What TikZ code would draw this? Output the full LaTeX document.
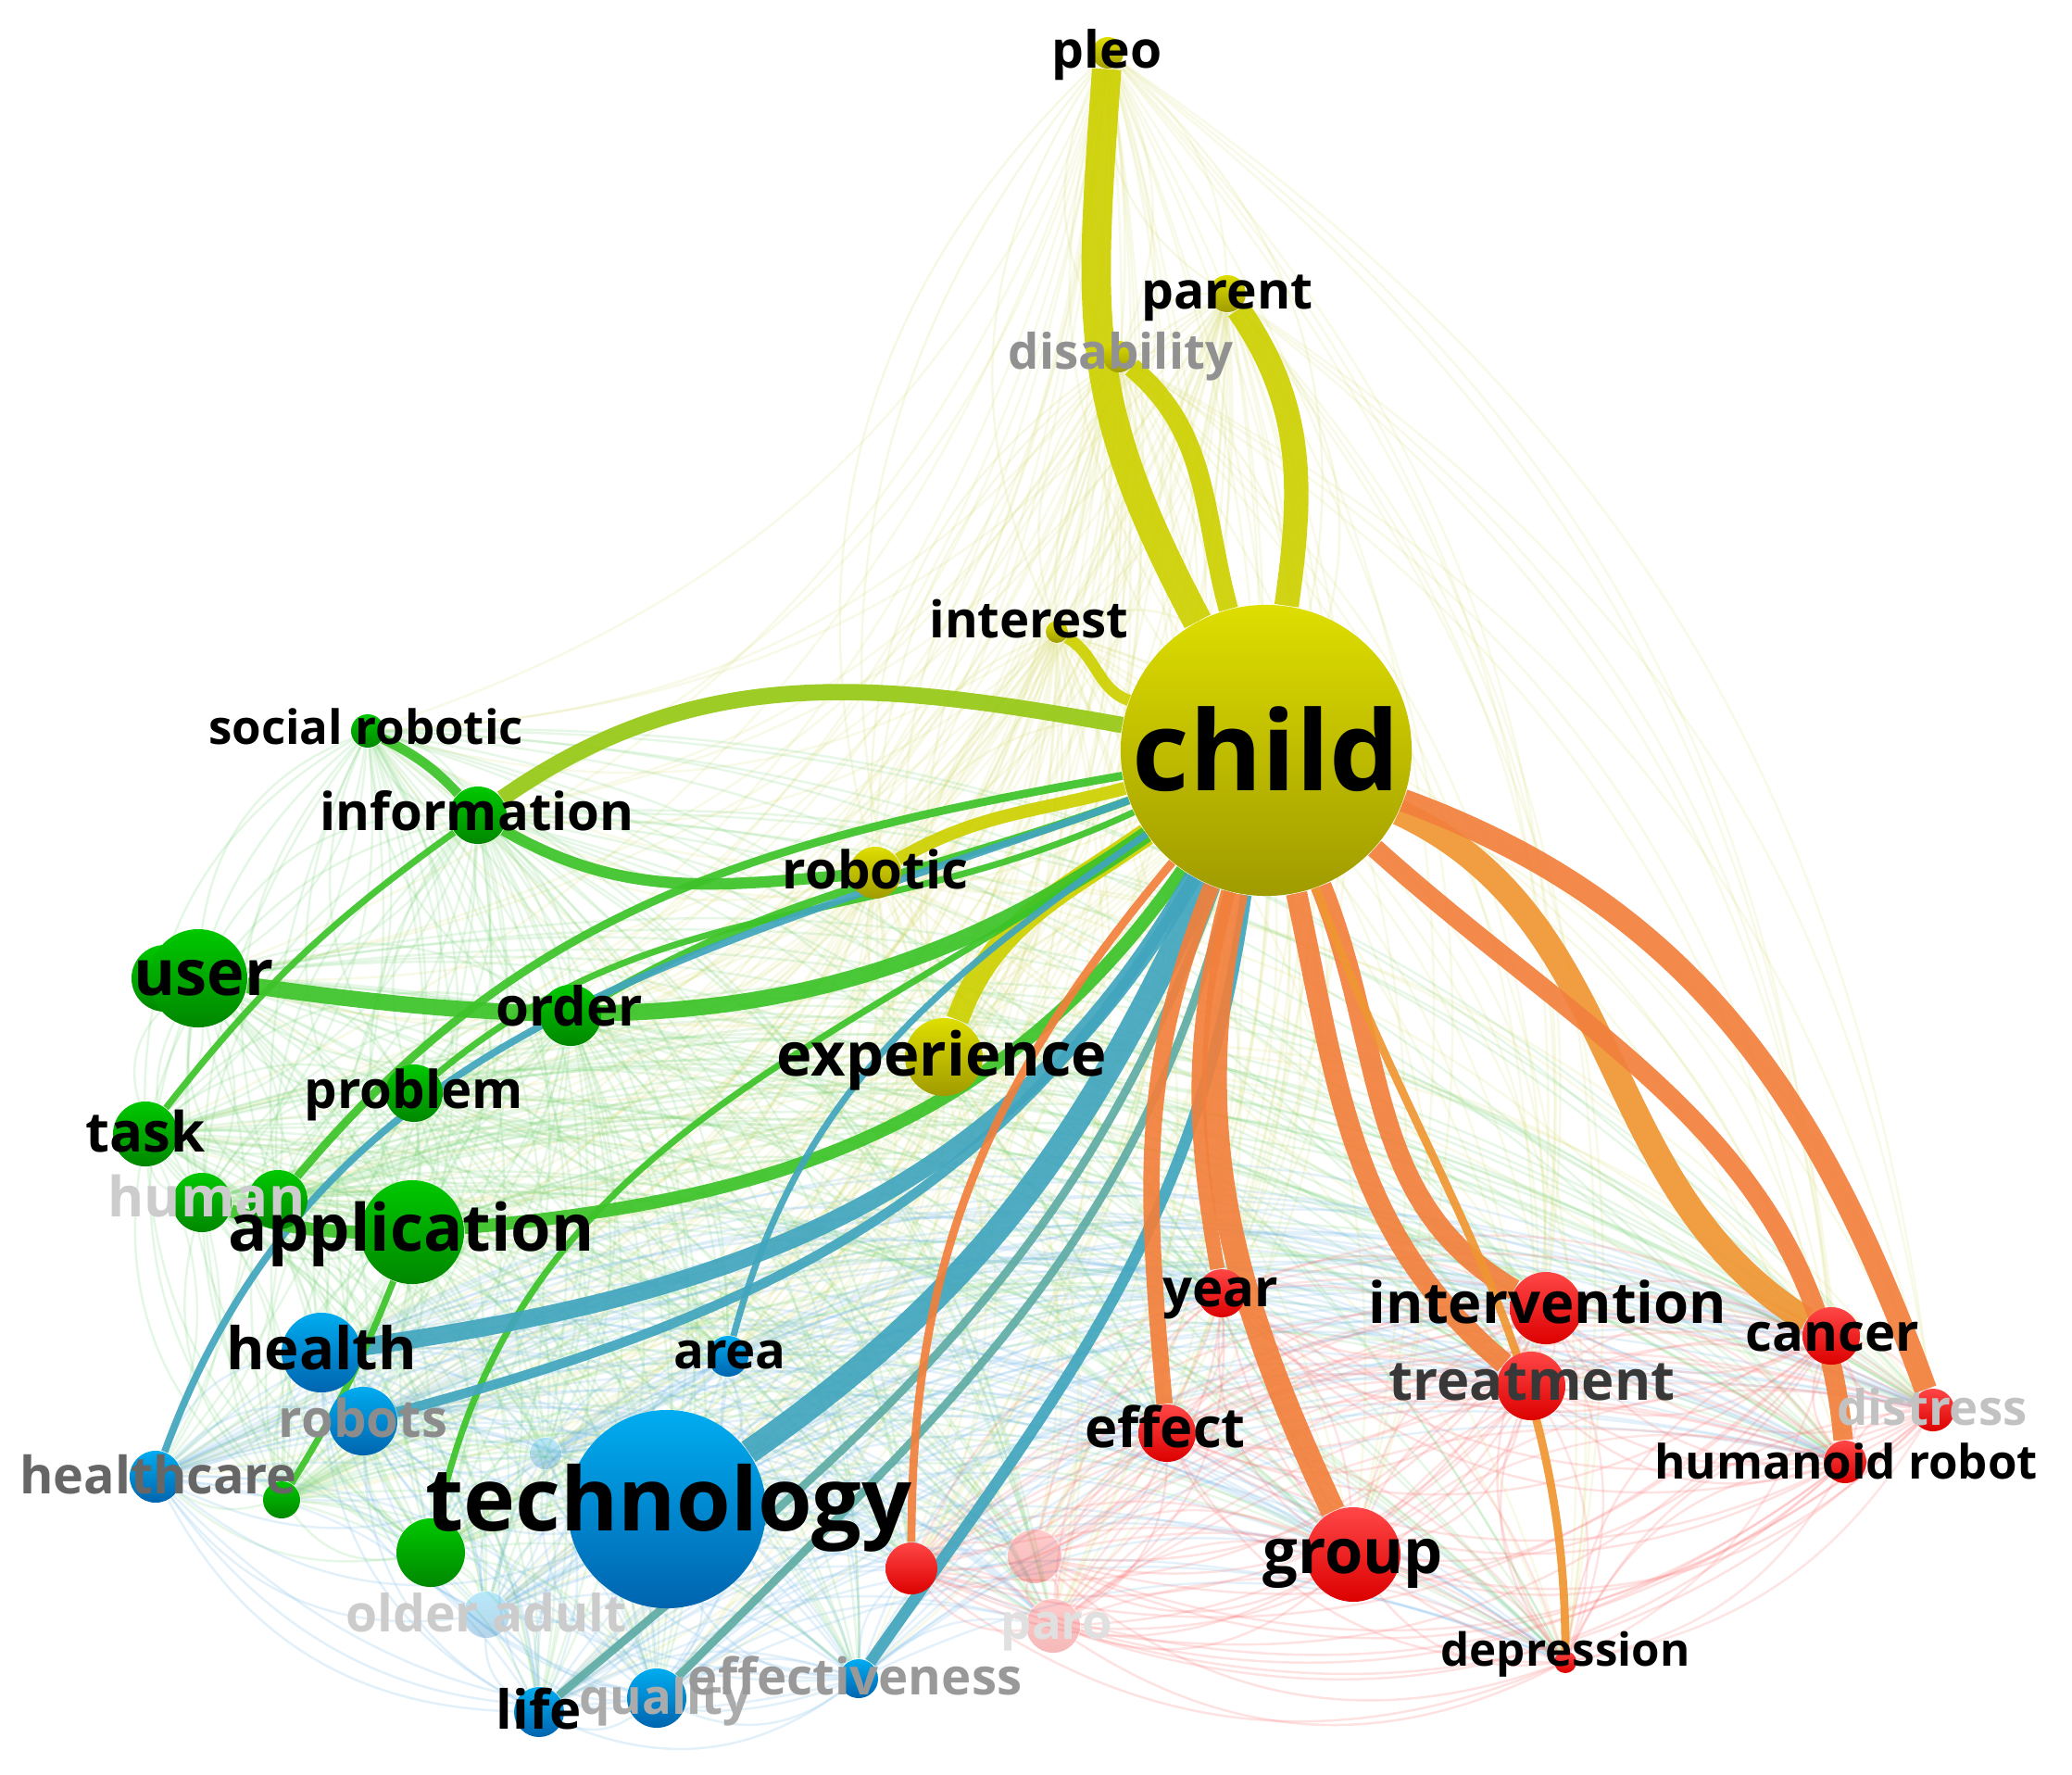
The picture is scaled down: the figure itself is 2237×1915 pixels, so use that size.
\documentclass[tikz,border=0pt]{standalone}
\usepackage{fontspec}
\setmainfont{Open Sans}
\pgfdeclarelayer{haze}
\pgfdeclarelayer{edges}
\pgfdeclarelayer{labels}
\pgfsetlayers{haze,edges,main,labels}
\definecolor{cYt}{RGB}{222,222,0}
\definecolor{cYb}{RGB}{160,155,0}
\definecolor{cGt}{RGB}{0,200,0}
\definecolor{cGb}{RGB}{0,135,0}
\definecolor{cBt}{RGB}{0,172,240}
\definecolor{cBb}{RGB}{0,100,175}
\definecolor{cRt}{RGB}{255,70,70}
\definecolor{cRb}{RGB}{220,0,0}
\definecolor{eY}{RGB}{205,208,0}
\definecolor{eYG}{RGB}{150,200,20}
\definecolor{eG}{RGB}{60,195,40}
\definecolor{eB}{RGB}{65,165,190}
\definecolor{eBG}{RGB}{95,172,165}
\definecolor{eR}{RGB}{242,128,60}
\definecolor{eO}{RGB}{240,150,50}
\definecolor{hY}{RGB}{215,220,120}
\definecolor{hG}{RGB}{120,210,120}
\definecolor{hB}{RGB}{110,180,230}
\definecolor{hR}{RGB}{250,110,110}
\tikzset{
  nd/.style 2 args={circle, inner sep=0pt, minimum size=#2*0.569pt,
    top color=c#1t, bottom color=c#1b, draw=none},
  fd/.style={opacity=0.28},
  lb/.style={font=\fontsize{#1}{#1}\selectfont\bfseries, inner sep=0pt, anchor=base},
  ed/.style 2 args={draw=#1, line width=#2pt, opacity=0.92},
}
\begin{document}
\begin{tikzpicture}[x=0.01cm,y=0.01cm]
\useasboundingbox (0,0) rectangle (2237,-1915);
% ---------- nodes ----------
\node[nd={Y}{157}] (child) at (1367,-810) {};
\node[nd={Y}{17}] (pleo) at (1196,-57) {};
\node[nd={Y}{20}] (parent) at (1325,-317) {};
\node[nd={Y}{17}] (disability) at (1208,-385) {};
\node[nd={Y}{12}] (interest) at (1141,-682) {};
\node[nd={Y}{28}] (robotic) at (945,-942) {};
\node[nd={Y}{42}] (experience) at (1019,-1141) {};
\node[nd={G}{18}] (socrob) at (397,-789) {};
\node[nd={G}{31}] (information) at (516,-880) {};
\node[nd={G}{36}] (user2) at (178,-1056) {};
\node[nd={G}{53}] (user) at (214,-1056) {};
\node[nd={G}{33}] (order) at (616,-1096) {};
\node[nd={G}{31}] (problem) at (447,-1180) {};
\node[nd={G}{35}] (task) at (157,-1224) {};
\node[nd={G}{32}] (human1) at (218,-1298) {};
\node[nd={G}{32}] (human2) at (300,-1295) {};
\node[nd={G}{56}] (application) at (445,-1330) {};
\node[nd={G}{20}] (gsmall) at (304,-1619) {};
\node[nd={G}{37}] (gmid) at (465,-1676) {};
\node[nd={B}{43}] (health) at (347,-1460) {};
\node[nd={B}{22}] (area) at (786,-1464) {};
\node[nd={B}{37}] (robots) at (392,-1534) {};
\node[nd={B}{28}] (healthcare) at (168,-1594) {};
\node[nd={B}{17},fd] (bfaint) at (589,-1569) {};
\node[nd={B}{25},fd] (olderadult) at (525,-1743) {};
\node[nd={B}{107}] (technology) at (720,-1629) {};
\node[nd={B}{27}] (life) at (582,-1848) {};
\node[nd={B}{32}] (quality) at (709,-1833) {};
\node[nd={B}{21}] (effectiveness) at (927,-1812) {};
\node[nd={R}{28}] (rdot) at (984,-1693) {};
\node[nd={R}{29},fd] (rfaint) at (1117,-1680) {};
\node[nd={R}{29},fd] (paro) at (1137,-1755) {};
\node[nd={R}{26}] (year) at (1319,-1396) {};
\node[nd={R}{31}] (effect) at (1260,-1547) {};
\node[nd={R}{51}] (group) at (1461,-1678) {};
\node[nd={R}{39}] (intervention) at (1669,-1412) {};
\node[nd={R}{37}] (treatment) at (1653,-1496) {};
\node[nd={R}{31}] (cancer) at (1977,-1442) {};
\node[nd={R}{23}] (distress) at (2087,-1522) {};
\node[nd={R}{23}] (humanoid) at (1992,-1578) {};
\node[nd={R}{12}] (depression) at (1690,-1794) {};
% ---------- faint background links ----------
\def\nodelist{child/Y,pleo/Y,parent/Y,disability/Y,interest/Y,robotic/Y,experience/Y,socrob/G,information/G,user/G,order/G,problem/G,task/G,human1/G,human2/G,application/G,gsmall/G,gmid/G,health/B,area/B,robots/B,healthcare/B,bfaint/B,olderadult/B,technology/B,life/B,quality/B,effectiveness/B,rdot/R,rfaint/R,paro/R,year/R,effect/R,group/R,intervention/R,treatment/R,cancer/R,distress/R,humanoid/R,depression/R}
\begin{pgfonlayer}{haze}
\foreach \a/\ca [count=\i] in \nodelist {
  \foreach \b/\cb [count=\j] in \nodelist {
    \ifnum\j>\i
      \draw[draw=h\ca, opacity=0.18, line width=0.7pt] (\a) to[bend left=24] (\b);
      \ifx\ca\cb
        \draw[draw=h\ca, opacity=0.2, line width=0.7pt] (\a) to[bend right=30] (\b);
      \fi
    \fi
  }
}
\end{pgfonlayer}
% ---------- strong links ----------
\begin{pgfonlayer}{edges}
\draw[ed={eY}{9}] (child) to[out=118,in=266,looseness=1.15] (pleo);
\draw[ed={eY}{7.5}] (child) to[out=82,in=-55] (parent);
\draw[ed={eY}{6}] (child) to[out=105,in=-40] (disability);
\draw[ed={eY}{3.5}] (child) to[out=160,in=-30] (interest);
\draw[ed={eY}{4}] (child) to[out=195,in=30] (robotic);
\draw[ed={eY}{7}] (child) to[out=215,in=70] (experience);
\draw[ed={eYG}{5}] (child) to[out=170,in=35] (information);
\draw[ed={eG}{5}] (child) to[out=215,in=-8] (user);
\draw[ed={eG}{2.5}] (child) to[out=200,in=30] (order);
\draw[ed={eG}{2}] (child) to[out=205,in=40] (problem);
\draw[ed={eG}{4}] (child) to[out=235,in=5] (application);
\draw[ed={eG}{2.5}] (child) to[out=190,in=50] (human2);
\draw[ed={eG}{2}] (child) to[out=215,in=78] (gmid);
\draw[ed={eB}{5.5}] (child) to[out=240,in=8] (health);
\draw[ed={eB}{3}] (child) to[out=240,in=15] (robots);
\draw[ed={eB}{2}] (child) to[out=215,in=75] (area);
\draw[ed={eB}{2.2}] (child) to[out=200,in=70] (healthcare);
\draw[ed={eB}{7.5}] (child) to[out=245,in=35] (technology);
\draw[ed={eBG}{2.5}] (child) to[out=250,in=40] (life);
\draw[ed={eBG}{2.5}] (child) to[out=255,in=45] (quality);
\draw[ed={eB}{3.5}] (child) to[out=262,in=55] (effectiveness);
\draw[ed={eR}{2.5}] (child) to[out=230,in=90] (rdot);
\draw[ed={eR}{4.5}] (child) to[out=255,in=100] (year);
\draw[ed={eR}{5}] (child) to[out=248,in=95] (effect);
\draw[ed={eR}{7.5}] (child) to[out=258,in=115] (group);
\draw[ed={eR}{6.5}] (child) to[out=292,in=150] (intervention);
\draw[ed={eR}{6.5}] (child) to[out=282,in=140] (treatment);
\draw[ed={eO}{8}] (child) to[out=335,in=148] (cancer);
\draw[ed={eR}{6}] (child) to[out=318,in=95] (humanoid);
\draw[ed={eR}{7}] (child) to[out=340,in=110] (distress);
\draw[ed={eO}{2.5}] (child) to[out=290,in=90] (depression);
\draw[ed={eG}{3}] (socrob) to[bend left=10] (information);
\draw[ed={eG}{3.5}] (information) to[out=-30,in=185] (robotic);
\draw[ed={eG}{2}] (task) to[bend left=8] (information);
\draw[ed={eG}{2}] (gsmall) to[bend right=5] (application);
\draw[ed={eG}{4}] (human1) to[bend right=8] (application);
\end{pgfonlayer}
% ---------- labels ----------
\begin{pgfonlayer}{labels}
\node[lb=34pt] (l-child) at (1367,-853) {child};
\node[lb=15.7pt] (l-pleo) at (1195,-73) {pleo};
\node[lb=15.7pt] (l-parent) at (1325,-333) {parent};
\node[lb=15pt, text=black!43] (l-disability) at (1210,-398) {disability};
\node[lb=15.5pt] (l-interest) at (1111,-688) {interest};
\node[lb=14.5pt] (l-socrob) at (395,-803) {social robotic};
\node[lb=16pt] (l-information) at (515,-896) {information};
\node[lb=16pt] (l-robotic) at (945,-959) {robotic};
\node[lb=19.5pt] (l-user) at (220,-1074) {user};
\node[lb=16.5pt] (l-order) at (615,-1107) {order};
\node[lb=18.5pt] (l-experience) at (1017,-1161) {experience};
\node[lb=16pt] (l-problem) at (447,-1196) {problem};
\node[lb=17pt] (l-task) at (157,-1243) {task};
\node[lb=17pt, text=black!20] (l-human) at (223,-1313) {human};
\node[lb=20pt] (l-application) at (444,-1350) {application};
\node[lb=18pt] (l-health) at (347,-1478) {health};
\node[lb=15.5pt] (l-area) at (788,-1477) {area};
\node[lb=16pt, text=black!45] (l-robots) at (392,-1551) {robots};
\node[lb=15.8pt, text=black!60] (l-healthcare) at (171,-1612) {healthcare};
\node[lb=27pt] (l-technology) at (722,-1652) {technology};
\node[lb=15.7pt, text=black!20] (l-olderadult) at (525,-1761) {older adult};
\node[lb=16.5pt] (l-life) at (582,-1866) {life};
\node[lb=15pt, text=black!33] (l-quality) at (718,-1850) {quality};
\node[lb=15.5pt, text=black!40] (l-effectiveness) at (923,-1829) {effectiveness};
\node[lb=15pt, text=black!12] (l-paro) at (1141,-1769) {paro};
\node[lb=16pt] (l-year) at (1318,-1410) {year};
\node[lb=17pt] (l-effect) at (1258,-1562) {effect};
\node[lb=19pt] (l-group) at (1461,-1698) {group};
\node[lb=17.5pt] (l-intervention) at (1671,-1428) {intervention};
\node[lb=17pt, text=black!78] (l-treatment) at (1654,-1511) {treatment};
\node[lb=16pt] (l-cancer) at (1978,-1458) {cancer};
\node[lb=15pt, text=black!24] (l-distress) at (2086,-1538) {distress};
\node[lb=14.5pt] (l-humanoid) at (1993,-1596) {humanoid robot};
\node[lb=14pt] (l-depression) at (1690,-1798) {depression};
\end{pgfonlayer}
\end{tikzpicture}
\end{document}
